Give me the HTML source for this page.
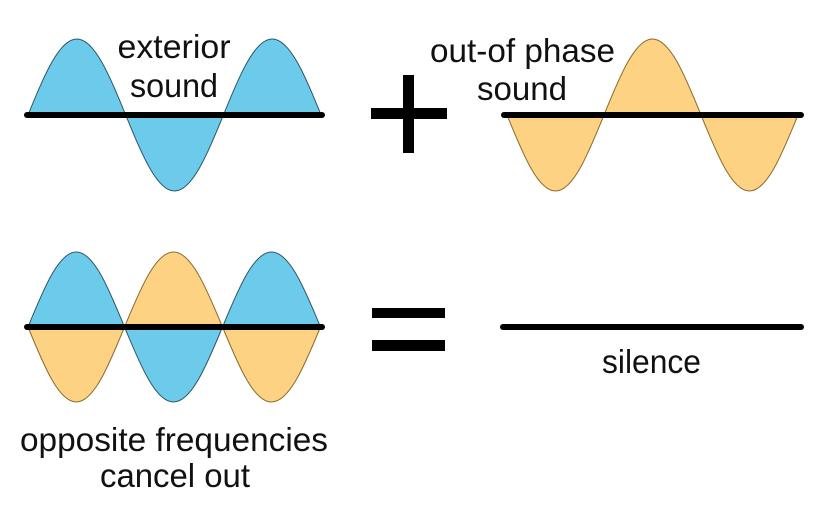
<!DOCTYPE html>
<html>
<head>
<meta charset="utf-8">
<style>
  html, body { margin: 0; padding: 0; background: #ffffff; }
  svg { display: block; }
  text { font-family: "Liberation Sans", "DejaVu Sans", sans-serif; fill: #111; font-size: 33px; }
</style>
</head>
<body>
<svg width="825" height="505" viewBox="0 0 825 505" xmlns="http://www.w3.org/2000/svg">
  <rect width="825" height="505" fill="#ffffff"/>

  <!-- Top-left: exterior sound (blue) baseline y=115, A=76, half period ~97.7 -->
  <g stroke="#2f5566" stroke-width="1" fill="#6ccbea">
    <path d="M28 115 c16.33 -39.9 31.3 -76 48.85 -76 c17.55 0 32.52 36.1 48.85 76 Z"/>
    <path d="M125.7 115 c16.33 39.9 31.3 76 48.85 76 c17.55 0 32.52 -36.1 48.85 -76 Z"/>
    <path d="M223.4 115 c16.33 -39.9 31.3 -76 48.85 -76 c17.55 0 32.52 36.1 48.85 76 Z"/>
  </g>
  <line x1="27" y1="115" x2="322" y2="115" stroke="#000" stroke-width="6" stroke-linecap="round"/>
  <text x="174" y="58" text-anchor="middle" textLength="113" lengthAdjust="spacingAndGlyphs">exterior</text>
  <text x="174" y="97" text-anchor="middle" textLength="88" lengthAdjust="spacingAndGlyphs">sound</text>

  <!-- Plus -->
  <rect x="371" y="108" width="76" height="11" fill="#000"/>
  <rect x="403" y="75" width="11" height="78" fill="#000"/>

  <!-- Top-right: out-of phase (orange) -->
  <g stroke="#8a6a2e" stroke-width="1" fill="#fdd383">
    <path d="M507 115 c16.2 39.9 31.1 76 48.5 76 c17.4 0 32.3 -36.1 48.5 -76 Z"/>
    <path d="M604 115 c16.2 -39.9 31.1 -76 48.5 -76 c17.4 0 32.3 36.1 48.5 76 Z"/>
    <path d="M701 115 c16.2 39.9 31.1 76 48.5 76 c17.4 0 32.3 -36.1 48.5 -76 Z"/>
  </g>
  <line x1="504" y1="115" x2="801" y2="115" stroke="#000" stroke-width="6" stroke-linecap="round"/>
  <text x="522.5" y="62" text-anchor="middle" textLength="185" lengthAdjust="spacingAndGlyphs">out-of phase</text>
  <text x="522" y="100" text-anchor="middle" textLength="90" lengthAdjust="spacingAndGlyphs">sound</text>

  <!-- Bottom-left: combined -->
  <g stroke-width="1">
    <path d="M28 327 c16.1 -39.4 30.9 -75 48.25 -75 c17.35 0 32.15 35.6 48.25 75 Z" fill="#6ccbea" stroke="#2f5566"/>
    <path d="M28 327 c16.1 39.4 30.9 75 48.25 75 c17.35 0 32.15 -35.6 48.25 -75 Z" fill="#fdd383" stroke="#8a6a2e"/>
    <path d="M124.5 327 c16.3 -39.4 31.3 -75 49 -75 c17.7 0 32.7 35.6 49 75 Z" fill="#fdd383" stroke="#8a6a2e"/>
    <path d="M124.5 327 c16.3 39.4 31.3 75 49 75 c17.7 0 32.7 -35.6 49 -75 Z" fill="#6ccbea" stroke="#2f5566"/>
    <path d="M222.5 327 c16.3 -39.4 31.3 -75 49 -75 c17.7 0 32.7 35.6 49 75 Z" fill="#6ccbea" stroke="#2f5566"/>
    <path d="M222.5 327 c16.3 39.4 31.3 75 49 75 c17.7 0 32.7 -35.6 49 -75 Z" fill="#fdd383" stroke="#8a6a2e"/>
  </g>
  <line x1="27" y1="327" x2="322" y2="327" stroke="#000" stroke-width="6" stroke-linecap="round"/>
  <text x="174" y="451" text-anchor="middle" textLength="308" lengthAdjust="spacingAndGlyphs">opposite frequencies</text>
  <text x="175" y="487" text-anchor="middle" textLength="150" lengthAdjust="spacingAndGlyphs">cancel out</text>

  <!-- Equals -->
  <rect x="372" y="308" width="73" height="10" fill="#000"/>
  <rect x="372" y="340" width="73" height="11" fill="#000"/>

  <!-- Silence -->
  <line x1="503" y1="327" x2="801" y2="327" stroke="#000" stroke-width="6" stroke-linecap="round"/>
  <text x="651.5" y="373" text-anchor="middle" textLength="99" lengthAdjust="spacingAndGlyphs">silence</text>
</svg>
</body>
</html>
